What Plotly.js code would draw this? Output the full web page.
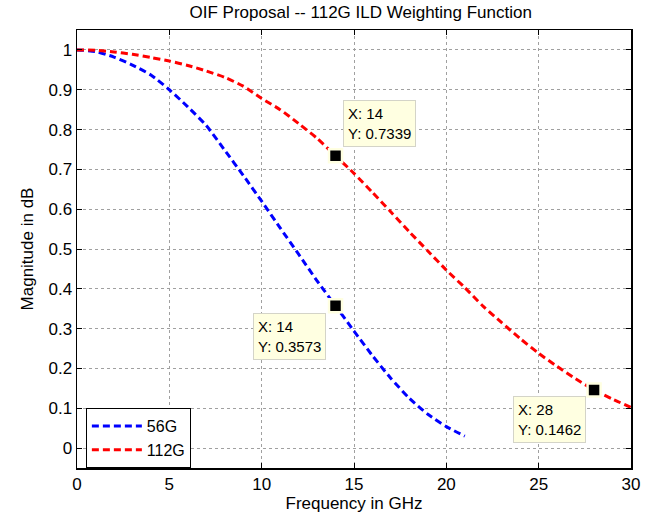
<!DOCTYPE html>
<html>
<head>
<meta charset="utf-8">
<script src="https://cdn.plot.ly/plotly-3.0.1.min.js"></script>
<style>html,body{margin:0;padding:0;background:#fff;}#chart{width:650px;height:516px;}</style>
</head>
<body>
<div id="chart"></div>
<script>
// ---- data ----
const freq56 = [0,1,2,3,4,5,6,7,8,9,10,11,12,13,14,15,16,17,18,19,20,21];
const mag56  = [1.0,0.996,0.982,0.962,0.937,0.90,0.857,0.81,0.748,0.685,0.62,0.553,0.487,0.42,0.3573,0.294,0.232,0.175,0.125,0.085,0.054,0.03];

const freq112 = [0,1,2,3,4,5,6,7,8,9,10,11,12,13,14,15,16,17,18,19,20,21,22,23,24,25,26,27,28,29,30];
const mag112  = [1.0,0.999,0.995,0.989,0.981,0.972,0.961,0.947,0.931,0.909,0.878,0.85,0.815,0.778,0.7339,0.69,0.642,0.593,0.543,0.495,0.447,0.403,0.356,0.315,0.275,0.238,0.205,0.174,0.1462,0.123,0.102];

const seriesNames = ["56G", "112G"];
const tipX = [14, 14, 28];
const tipY = [0.7339, 0.3573, 0.1462];

const xTicks = [0,5,10,15,20,25,30];
const yTicks = [0,0.1,0.2,0.3,0.4,0.5,0.6,0.7,0.8,0.9,1];

const FONT = "Arial, 'Liberation Sans', sans-serif";

const traces = [
  {x: freq56, y: mag56, name: seriesNames[0], mode: "lines",
   line: {color: "#0000ff", width: 3, dash: "7px,4px", shape: "spline", smoothing: 0.6}},
  {x: freq112, y: mag112, name: seriesNames[1], mode: "lines",
   line: {color: "#ff0000", width: 3, dash: "7px,4px", shape: "spline", smoothing: 0.6}},
  {x: tipX, y: tipY, mode: "markers", showlegend: false, hoverinfo: "skip",
   marker: {symbol: "square", size: 13, color: "#000000", line: {color: "#ffffe1", width: 2.5}}}
];

const offsets = [[44,-32],[-46,31],[-45,30]];
const annotations = tipX.map((xv, i) => ({
  x: xv, y: tipY[i], xref: "x", yref: "y",
  text: "X: " + xv + "<br>Y: " + tipY[i].toFixed(4),
  showarrow: true, arrowcolor: "rgba(0,0,0,0)", arrowwidth: 0.1,
  ax: offsets[i][0], ay: offsets[i][1],
  align: "left", bgcolor: "#ffffe1", bordercolor: "#d4d4c8", borderwidth: 1, borderpad: 4,
  font: {family: FONT, size: 15, color: "#000"}
}));

const axisCommon = {
  showline: true, linecolor: "#000", linewidth: 1.5, mirror: "ticks",
  ticks: "inside", ticklen: 5, tickcolor: "#000", tickwidth: 1,
  showgrid: true, gridcolor: "#a0a0a0", griddash: "dot", gridwidth: 1,
  zeroline: false, tickfont: {family: FONT, size: 17, color: "#000"}
};

const layout = {
  width: 650, height: 516,
  margin: {l: 77, r: 19, t: 30, b: 48},
  paper_bgcolor: "#fff", plot_bgcolor: "#fff",
  title: {text: "OIF Proposal -- 112G ILD Weighting Function", font: {family: FONT, size: 17, color: "#000"},
          x: 0.555, xanchor: "center", y: 0.976, yanchor: "middle"},
  xaxis: Object.assign({}, axisCommon, {range: [0, 30], tickvals: xTicks, ticktext: xTicks.map(String),
          title: {text: "Frequency in GHz", font: {family: FONT, size: 17, color: "#000"}, standoff: 3}}),
  yaxis: Object.assign({}, axisCommon, {range: [-0.05, 1.05], tickvals: yTicks, ticktext: yTicks.map(v => String(v)),
          title: {text: "Magnitude in dB", font: {family: FONT, size: 17, color: "#000"}, standoff: 10}}),
  legend: {x: 0.016, y: 0.137, xanchor: "left", yanchor: "top", bgcolor: "#fff", bordercolor: "#000", borderwidth: 1,
           font: {family: FONT, size: 16, color: "#000"}, itemwidth: 50, tracegroupgap: 0},
  annotations: annotations,
  showlegend: true
};

Plotly.newPlot("chart", traces, layout, {displayModeBar: false, staticPlot: true});
</script>
</body>
</html>
